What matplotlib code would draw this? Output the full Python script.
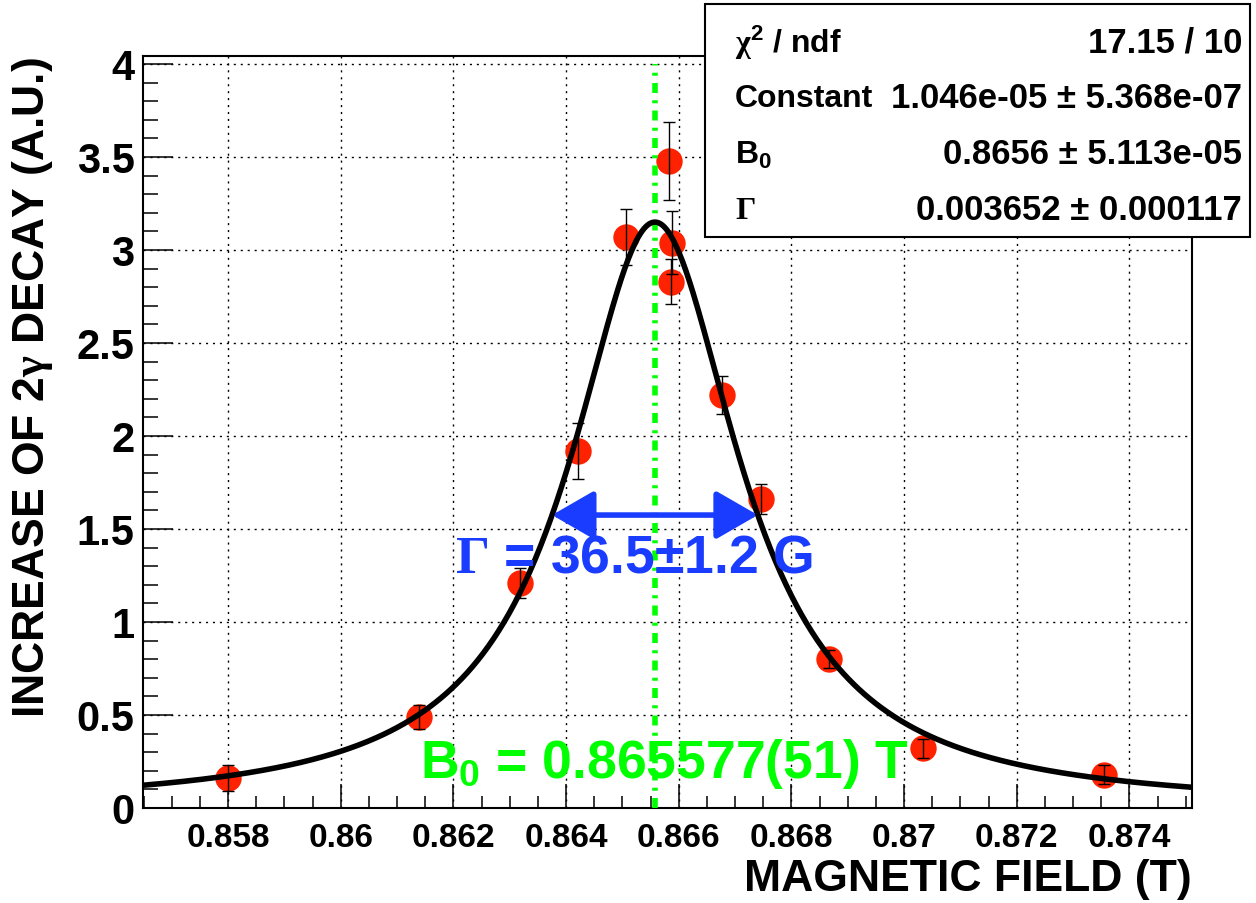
import numpy as np
import matplotlib.pyplot as plt
from matplotlib.patches import Rectangle, FancyArrowPatch
from matplotlib.ticker import MultipleLocator, FuncFormatter

plt.rcParams["font.family"] = ["Liberation Sans", "DejaVu Sans"]
plt.rcParams["font.weight"] = "bold"
plt.rcParams["mathtext.fontset"] = "custom"
plt.rcParams["mathtext.rm"] = "Liberation Sans:bold"
plt.rcParams["mathtext.it"] = "Liberation Sans:bold"
plt.rcParams["mathtext.bf"] = "Liberation Sans:bold"
plt.rcParams["mathtext.sf"] = "Liberation Serif"

# measured resonance scan
field = [0.85800, 0.86139, 0.86318, 0.86421, 0.86506, 0.86583, 0.86588,
         0.86586, 0.86677, 0.86746, 0.86867, 0.87033, 0.87355]
signal = [0.16, 0.49, 1.21, 1.92, 3.07, 3.48, 3.04, 2.83, 2.22, 1.66,
          0.80, 0.32, 0.18]
signal_err = [0.07, 0.065, 0.08, 0.15, 0.15, 0.21, 0.17, 0.12, 0.10, 0.08,
              0.05, 0.05, 0.05]

# Breit-Wigner fit results
chi2, ndf = 17.15, 10
const, const_err = 1.046e-05, 5.368e-07
b0, b0_err = 0.8656, 5.113e-05
b0_precise = 0.865577
gamma, gamma_err = 0.003652, 0.000117
peak = 3.15

xmin, xmax = 0.85649, 0.87511
ymin, ymax = 0.0, 4.043

RED = "#ff2200"
GREEN = "#00ff00"
BLUE = "#1a3cff"

fig = plt.figure(figsize=(12.56, 9.04), dpi=100)
ax = fig.add_axes([143 / 1256, 1 - 809 / 904, (1192 - 143) / 1256, (809 - 57) / 904])
ax.set_xlim(xmin, xmax)
ax.set_ylim(ymin, ymax)

# grid and axes styling
ax.grid(True, which="major", color="black", linestyle=(0, (1.5, 3.5)), linewidth=1.0)
ax.set_axisbelow(True)
for side in ax.spines.values():
    side.set_linewidth(1.5)
ax.xaxis.set_major_locator(MultipleLocator(0.002))
ax.xaxis.set_minor_locator(MultipleLocator(0.0005))
ax.yaxis.set_major_locator(MultipleLocator(0.5))
ax.yaxis.set_minor_locator(MultipleLocator(0.1))
fmt = FuncFormatter(lambda v, _: f"{v:g}")
ax.xaxis.set_major_formatter(fmt)
ax.yaxis.set_major_formatter(fmt)
ax.tick_params(axis="x", which="major", direction="in", length=17, width=1.1,
               labelsize=24, pad=10)
ax.tick_params(axis="x", which="minor", direction="in", length=8.6, width=1.1)
ax.tick_params(axis="y", which="major", direction="in", length=21.6, width=1.1,
               labelsize=30, pad=6)
ax.tick_params(axis="y", which="minor", direction="in", length=10.8, width=1.1)

# data points with error bars
ax.plot(field, signal, "o", color=RED, markersize=19, markeredgewidth=0, zorder=3)
ax.errorbar(field, signal, yerr=signal_err, fmt="none", ecolor="black",
            elinewidth=1.0, capsize=4.5, capthick=1.0, zorder=4)

# fitted Lorentzian line shape
xs = np.linspace(xmin, xmax, 600)
half = gamma / 2
ys = peak * half ** 2 / ((xs - b0_precise) ** 2 + half ** 2)
ax.plot(xs, ys, color="black", linewidth=4, zorder=6)

# resonance centre
ax.plot([b0_precise, b0_precise], [0, 4.0], color=GREEN, linewidth=4,
        linestyle=(0, (1.8, 1.3, 0.55, 1.3)), zorder=5)

# full width at half maximum
arrow = FancyArrowPatch((b0_precise - half, peak / 2), (b0_precise + half, peak / 2),
                        arrowstyle="<|-|>,head_length=26,head_width=15",
                        mutation_scale=1, color=BLUE, linewidth=4,
                        shrinkA=0, shrinkB=0, zorder=7)
ax.add_patch(arrow)

ax.text(0.862028, 1.27,
        r"$\mathsf{\Gamma}$ = " + f"{gamma * 1e4:.1f}±{gamma_err * 1e4:.1f} G",
        color=BLUE, fontsize=38.5, ha="left", va="baseline", zorder=8)
ax.text(0.861407, 0.167,
        r"$B_0$ = " + f"{b0_precise:.6f}({round(b0_err * 1e6)}) T",
        color=GREEN, fontsize=38.5, ha="left", va="baseline", zorder=8)

# axis titles
fig.text(1192 / 1256, 1 - 880 / 904, "MAGNETIC FIELD (T)", fontsize=32,
         ha="right", va="center")
fig.text(33 / 1256, 1 - 57 / 904, r"INCREASE OF 2$\mathsf{\gamma}$ DECAY (A.U.)",
         fontsize=32, rotation=90, ha="center", va="top")

# fit statistics box
box = Rectangle((705 / 1256, 1 - 238 / 904), (1250 - 705) / 1256, (238 - 5) / 904,
                transform=fig.transFigure, facecolor="white", edgecolor="black",
                linewidth=1.5, zorder=10)
fig.add_artist(box)
names = [r"$\mathsf{\chi}^{2}$ / ndf", "Constant", r"$B_0$", r"$\mathsf{\Gamma}$"]
values = [f"{chi2:.2f} / {ndf}",
          f"{const:.3e} ± {const_err:.3e}",
          f"{b0:.4f} ± {b0_err:.3e}",
          f"{gamma:.6f} ± {gamma_err:.6f}"]
for i, (name, val) in enumerate(zip(names, values)):
    yrow = 1 - (43 + 56 * i) / 904
    fig.text(735 / 1256, yrow, name, fontsize=23, ha="left", va="center", zorder=11)
    fig.text(1242 / 1256, yrow, val, fontsize=25, ha="right", va="center", zorder=11)

fig.savefig("out.png", dpi=100)
